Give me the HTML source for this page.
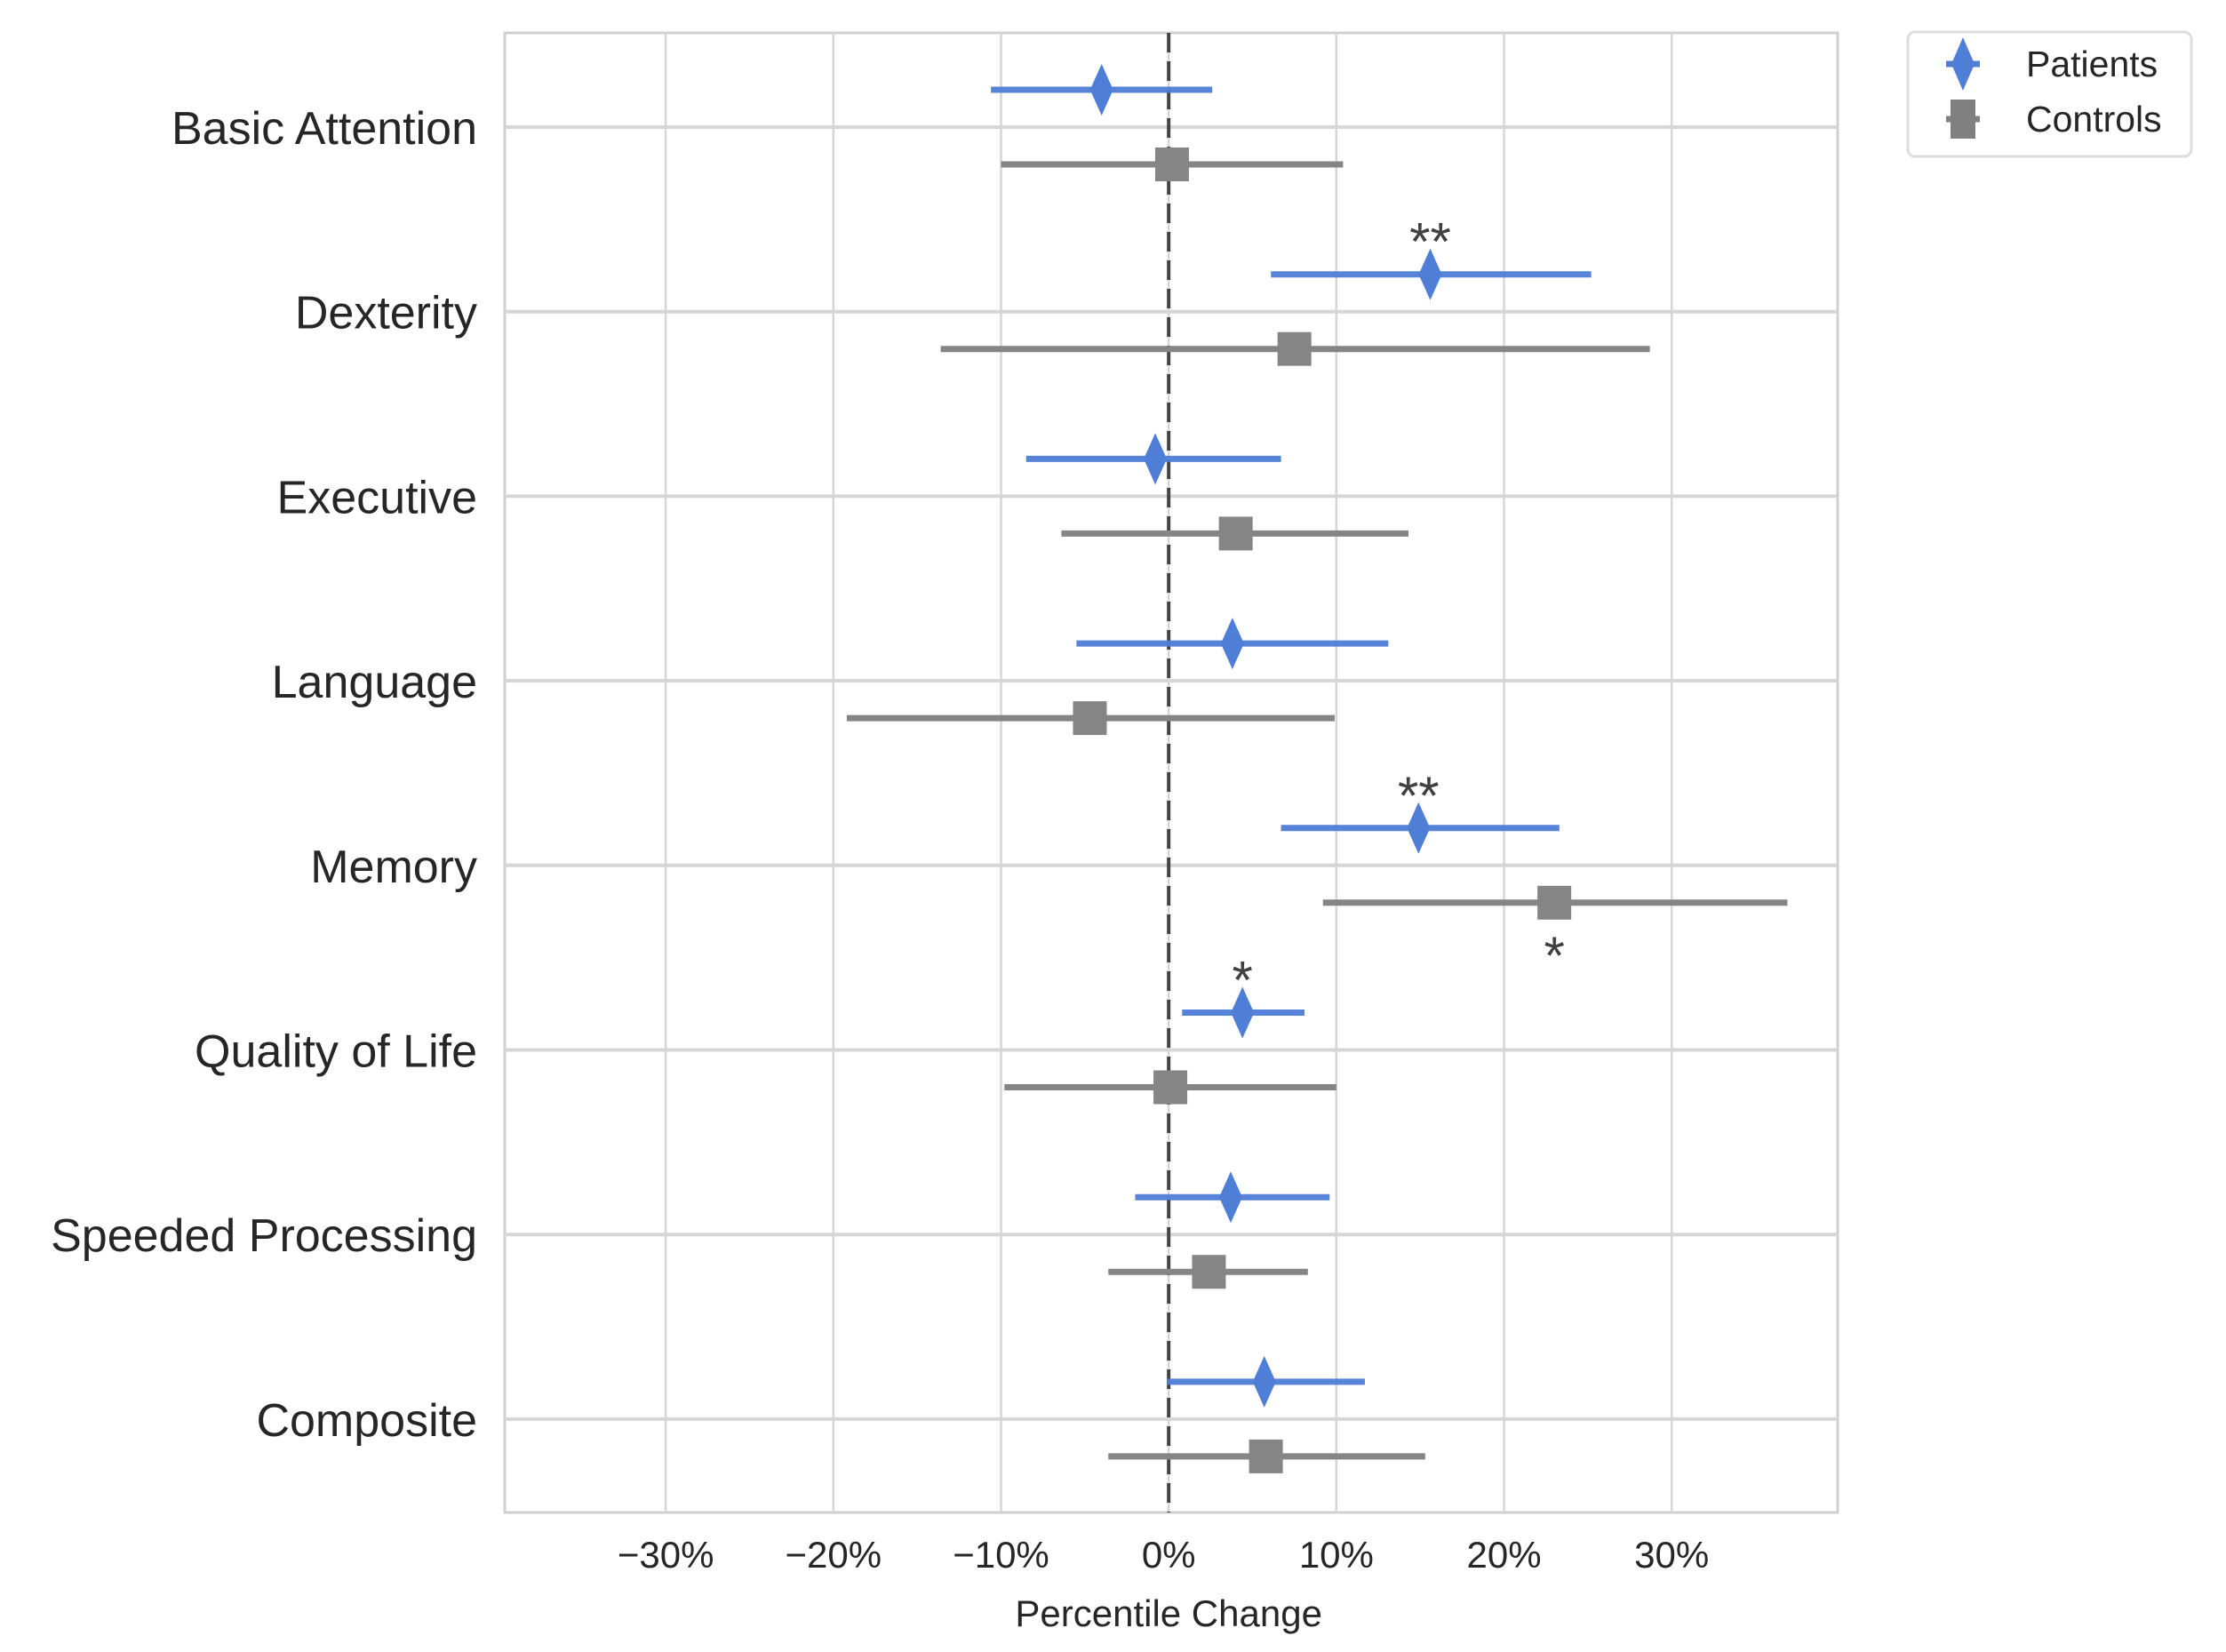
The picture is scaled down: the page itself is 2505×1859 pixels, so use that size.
<!DOCTYPE html>
<html><head><meta charset="utf-8"><style>
html,body{margin:0;padding:0;background:#fff;}
svg{display:block;font-family:"Liberation Sans",Arial,sans-serif;}
</style></head><body>
<svg id="chart" width="2505" height="1859" viewBox="0 0 2505 1859" xmlns="http://www.w3.org/2000/svg">
<rect x="0" y="0" width="2505" height="1859" fill="#fff"/>
<g id="grid"></g><g id="marks"></g><g id="labels"></g>
<g>
<rect x="2147" y="36" width="319" height="140" rx="8" fill="#fff" stroke="#ddd" stroke-width="3"/>
<g>
<line x1="2190" y1="72" x2="2228" y2="72" stroke="#4f7ed6" stroke-width="7"/>
<polygon points="2209,42 2222,72 2209,102 2196,72" fill="#4f7ed6"/>
<text x="2280" y="86" font-size="41" fill="#262626">Patients</text></g>
<g>
<line x1="2190" y1="134" x2="2228" y2="134" stroke="#808080" stroke-width="7"/>
<rect x="2195" y="112" width="28" height="44" fill="#808080"/>
<text x="2280" y="148" font-size="41" fill="#262626">Controls</text></g>
</g>
</svg>
<script>
const categories=["Basic Attention","Dexterity","Executive","Language","Memory","Quality of Life","Speeded Processing","Composite"];
const patientMean=[-4.0,15.6,-0.8,3.8,14.9,4.4,3.7,5.7];
const patientLow=[-10.6,6.1,-8.5,-5.5,6.7,0.8,-2.0,-0.1];
const patientHigh=[2.6,25.2,6.7,13.1,23.3,8.1,9.6,11.7];
const controlMean=[0.2,7.5,4.0,-4.7,23.0,0.1,2.4,5.8];
const controlLow=[-10.0,-13.6,-6.4,-19.2,9.2,-9.8,-3.6,-3.6];
const controlHigh=[10.4,28.7,14.3,9.9,36.9,10.0,8.3,15.3];
const patientStars=["","**","","","**","*","",""];
const controlStars=["","","","","*","","",""];
const xTicks=[-30,-20,-10,0,10,20,30];

const NS="http://www.w3.org/2000/svg";
const L=568,R=2068,T=37,B=1702;
const xmin=-39.6,xmax=39.9;
function X(v){return L+(v-xmin)/(xmax-xmin)*(R-L);}
const catTop=143,catStep=207.7;
function Y(i){return catTop+i*catStep;}
const off=42;
function mk(tag,attrs,parent){const e=document.createElementNS(NS,tag);for(const k in attrs)e.setAttribute(k,attrs[k]);parent.appendChild(e);return e;}
const grid=document.getElementById('grid'),marks=document.getElementById('marks'),labels=document.getElementById('labels');
let bg=mk('rect',{x:L,y:T,width:R-L,height:B-T,fill:'#fff',stroke:'#d0d0d0','stroke-width':3},grid);


xTicks.forEach(t=>{
 let g=mk('line',{x1:X(t),x2:X(t),y1:T,y2:B,stroke:'#d6d6d6','stroke-width':2.5},grid);
 
 
 let tx=mk('text',{x:X(t),y:1764,'font-size':42,fill:'#262626','text-anchor':'middle'},labels);
 tx.textContent=(t<0?'\u2212'+(-t):t)+'%';
 
 
});
categories.forEach((c,i)=>{
 let g=mk('line',{x1:L,x2:R,y1:Y(i),y2:Y(i),stroke:'#d6d6d6','stroke-width':4},grid);
 
 
 let tx=mk('text',{x:537,y:Y(i)+19,'font-size':52,fill:'#262626','text-anchor':'end'},labels);
 tx.textContent=c;
 
 
});
let zl=mk('line',{x1:X(0),x2:X(0),y1:T,y2:B,stroke:'#444','stroke-width':4,'stroke-dasharray':'22,10'},marks);


categories.forEach((c,i)=>{
 const yp=Y(i)-off,yc=Y(i)+off;
 let e=mk('line',{x1:X(patientLow[i]),x2:X(patientHigh[i]),y1:yp,y2:yp,stroke:'#4f7ed6','stroke-width':7,opacity:0.95},marks);
 
 
 const px=X(patientMean[i]);
 let d=mk('polygon',{points:`${px},${yp-29} ${px+13},${yp} ${px},${yp+29} ${px-13},${yp}`,fill:'#4f7ed6'},marks);
 
 
 let e2=mk('line',{x1:X(controlLow[i]),x2:X(controlHigh[i]),y1:yc,y2:yc,stroke:'#858585','stroke-width':7},marks);
 
 
 const cx=X(controlMean[i]);
 let s=mk('rect',{x:cx-19,y:yc-19,width:38,height:38,fill:'#858585'},marks);
 
 
 if(patientStars[i]){let t=mk('text',{x:px,y:yp-16,'font-size':60,fill:'#404040','text-anchor':'middle'},labels);t.textContent=patientStars[i];
  
  }
 if(controlStars[i]){let t=mk('text',{x:cx,y:yc+80,'font-size':60,fill:'#404040','text-anchor':'middle'},labels);t.textContent=controlStars[i];
  
  }
});
let xt=mk('text',{x:X(0),y:1830,'font-size':42,fill:'#262626','text-anchor':'middle'},labels);
xt.textContent='Percentile Change';


</script>
</body></html>
